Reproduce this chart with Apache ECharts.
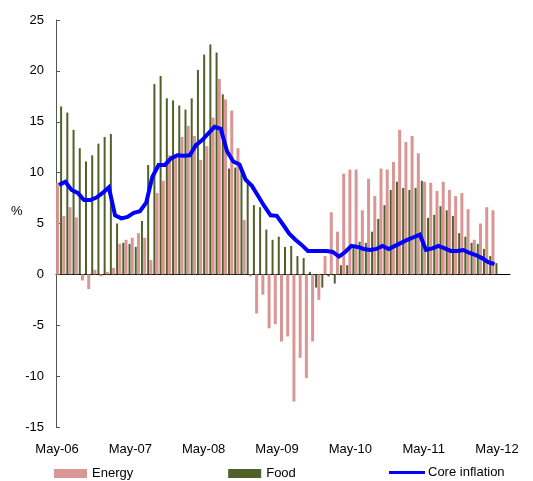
<!DOCTYPE html>
<html><head><meta charset="utf-8">
<script src="https://cdn.jsdelivr.net/npm/echarts@6/dist/echarts.min.js"></script>
<style>html,body{margin:0;padding:0;background:#fff}#c{width:533px;height:481px}</style>
</head><body><div id="c"></div>
<script>
const monthNames = ['Jan','Feb','Mar','Apr','May','Jun','Jul','Aug','Sep','Oct','Nov','Dec'];
const categories = [];
for (let i = 0; i < 73; i++) {
  const m = (4 + i) % 12;
  const y = 6 + Math.floor((4 + i) / 12);
  categories.push(monthNames[m] + '-' + String(y).padStart(2, '0'));
}
const tickLabels = ['May-06','May-07','May-08','May-09','May-10','May-11','May-12'];

const energy = [
  9.0, 5.75, 6.6, 5.6, -0.6, -1.45, 0.45, -0.2, 0.25, 0.65, 3.0, 3.4,
  3.6, 4.05, 3.6, 1.4, 8.0, 9.2, 11.7, 11.5, 13.5, 14.6, 13.6, 11.25,
  12.6, 15.4, 19.2, 17.2, 16.1, 12.4, 5.35, -0.2, -3.85, -2.0, -5.3, -4.9,
  -6.6, -6.1, -12.5, -8.2, -10.2, -6.6, -2.5, 1.8, 6.1, 4.2, 9.9, 10.3,
  10.3, 6.3, 9.4, 7.7, 10.4, 10.3, 11.05, 14.2, 13.0, 13.6, 11.9, 9.1,
  9.0, 8.2, 9.1, 8.3, 7.7, 8.0, 6.4, 3.4, 5.0, 6.6, 6.3
];
const food = [
  16.5, 15.9, 14.2, 12.4, 11.1, 11.7, 12.85, 13.5, 13.8, 5.0, 3.1, 3.0,
  2.7, 5.25, 10.75, 18.7, 19.5, 17.3, 17.1, 16.6, 16.2, 17.3, 20.1, 21.6,
  22.6, 21.8, 17.7, 10.4, 10.5, 10.3, 8.9, 6.8, 6.6, 4.4, 3.4, 3.7,
  2.7, 2.8, 1.8, 1.6, 0.25, -1.3, -1.3, -0.2, -0.9, 0.9, 0.9, 2.6,
  3.2, 3.1, 4.2, 5.45, 6.8, 8.3, 9.1, 8.5, 8.3, 8.5, 9.2, 5.55,
  5.85, 6.7, 6.3, 5.75, 4.05, 3.7, 3.1, 3.0, 2.5, 1.8, 1.1
];
const core = [
  8.8, 9.1, 8.3, 8.0, 7.3, 7.3, 7.55, 8.0, 8.55, 5.8, 5.5, 5.65,
  6.05, 6.2, 7.05, 9.6, 10.75, 10.75, 11.4, 11.7, 11.65, 11.7, 12.7, 13.2,
  13.85, 14.5, 14.3, 12.1, 11.1, 10.8, 9.3, 8.7, 7.7, 6.7, 5.8, 5.75,
  4.9, 4.0, 3.4, 2.9, 2.3, 2.3, 2.3, 2.3, 2.2, 1.75, 2.2, 2.8,
  2.7, 2.5, 2.4, 2.5, 2.8, 2.5, 2.8, 3.1, 3.4, 3.65, 3.9, 2.4,
  2.55, 2.8, 2.55, 2.3, 2.3, 2.4, 2.1, 1.9, 1.6, 1.2, 1.0
];

const FONT = "'Liberation Sans', Arial, sans-serif";
const chart = echarts.init(document.getElementById('c'), null, {renderer: 'canvas'});
chart.setOption({
  animation: false,
  backgroundColor: '#ffffff',
  textStyle: {fontFamily: FONT},
  grid: [
    {left: 56, right: 23, top: 20, bottom: 54},
    {left: 57, right: 36, top: 20, bottom: 54}
  ],
  legend: [
    {
      left: 54, top: 467, padding: 0,
      itemWidth: 33, itemHeight: 9, itemGap: 95,
      textStyle: {fontFamily: FONT, fontSize: 13, color: '#000'},
      data: [{name: 'Energy', icon: 'rect'}, {name: 'Food', icon: 'rect'}]
    },
    {
      left: 389, top: 466, padding: 0,
      itemWidth: 36, itemHeight: 3,
      textStyle: {fontFamily: FONT, fontSize: 13, color: '#000', padding: [0, 0, 0, -2]},
      data: [{name: 'Core inflation', icon: 'rect'}]
    }
  ],
  graphic: [{
    type: 'text', left: 11, top: 205,
    style: {text: '%', font: '13px ' + FONT, fill: '#000'}
  }],
  xAxis: [
    {
      type: 'category', gridIndex: 0, data: categories, boundaryGap: true,
      axisLine: {onZero: true, lineStyle: {color: '#000', width: 1}},
      axisTick: {show: false}, axisLabel: {show: false}, splitLine: {show: false}
    },
    {
      type: 'category', gridIndex: 1, data: categories, boundaryGap: false,
      position: 'bottom',
      axisLine: {show: false, onZero: false}, axisTick: {show: false}, splitLine: {show: false},
      axisLabel: {
        interval: 0, margin: 16, fontSize: 13, color: '#000', fontFamily: FONT,
        formatter: v => tickLabels.includes(v) ? v : ''
      }
    }
  ],
  yAxis: [
    {
      type: 'value', gridIndex: 0, min: -15, max: 25, interval: 5,
      axisLine: {show: true, onZero: false, lineStyle: {color: '#555', width: 1}},
      axisTick: {show: true, inside: true, length: 4, lineStyle: {color: '#555'}},
      axisLabel: {margin: 12, fontSize: 13, color: '#000', fontFamily: FONT},
      splitLine: {show: false}
    },
    {
      type: 'value', gridIndex: 1, min: -15, max: 25, show: false
    }
  ],
  series: [
    {
      name: 'Energy', type: 'bar', xAxisIndex: 0, yAxisIndex: 0,
      data: energy, barWidth: 3, barGap: '33%',
      itemStyle: {color: '#D99694'}, z: 2
    },
    {
      name: 'Food', type: 'bar', xAxisIndex: 0, yAxisIndex: 0,
      data: food, barWidth: 2, barGap: '33%',
      itemStyle: {color: '#4F6128'}, z: 2
    },
    {
      name: 'Core inflation', type: 'line', xAxisIndex: 0, yAxisIndex: 0,
      data: core, symbol: 'none', smooth: false,
      lineStyle: {color: '#0000FF', width: 4, join: 'miter'},
      itemStyle: {color: '#0000FF'}, z: 5
    }
  ]
});
</script>
</body></html>
